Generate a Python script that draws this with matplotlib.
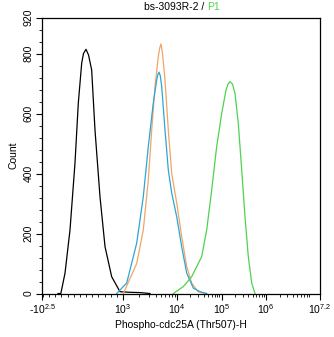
import numpy as np
import matplotlib
matplotlib.use('Agg')
import matplotlib.pyplot as plt
from matplotlib.ticker import FixedLocator, MultipleLocator

plt.rcParams['font.family'] = 'Liberation Sans'
plt.rcParams['mathtext.fontset'] = 'custom'
plt.rcParams['mathtext.rm'] = 'Liberation Sans'
plt.rcParams['mathtext.it'] = 'Liberation Sans'

# histogram outlines (fluorescence value, count)
black_x = [-56, -10, 58, 139, 220, 274, 329, 358, 399, 440, 491, 545, 626, 708, 816, 951, 1348, 2065, 3162]
black_y = [0, 0, 68, 212, 435, 635, 768, 800, 814, 795, 745, 545, 323, 156, 56, 6, 4, 3, 0]

orange_x = [1013, 1794, 2376, 2942, 3401, 3914, 4505, 4782, 5054, 5389, 5995, 6901, 7978, 9873, 12753, 16515, 21393, 29648, 42580]
orange_y = [0, 100, 212, 378, 545, 690, 790, 818, 832, 800, 712, 545, 400, 302, 190, 90, 35, 6, 0]

blue_x = [898, 1171, 1794, 2376, 2942, 3639, 4208, 4430, 4642, 4907, 5208, 5995, 6901, 7978, 9873, 12753, 16515, 23241, 32881, 46500]
blue_y = [0, 35, 168, 323, 490, 635, 712, 730, 738, 725, 690, 545, 412, 335, 256, 156, 68, 18, 6, 0]

green_x = [8542, 13855, 21393, 35900, 46500, 60230, 78020, 101000, 126200, 140000, 155200, 176700, 201100, 238500, 284400, 337500, 400300, 477200, 565900]
green_y = [0, 23, 56, 123, 212, 345, 490, 600, 678, 698, 706, 698, 667, 567, 412, 256, 123, 35, 0]

# biexponential-like display scale: linear below 10^3, log above
g_pts = [-0.316, 1, 2, 3, 4, 5.2]
p_pts = [0, 81, 135, 179.5, 224, 278]


def to_g(x):
    x = np.asarray(x, dtype=float)
    out = x / 1000.0
    big = x >= 1000
    out[big] = 1 + np.log10(x[big] / 1000.0)
    return out


def from_g(g):
    g = np.asarray(g, dtype=float)
    out = g * 1000.0
    big = g >= 1
    out[big] = 1000.0 * 10 ** (g[big] - 1)
    return out


def fwd(x):
    return np.interp(to_g(x), g_pts, p_pts)


def inv(p):
    return from_g(np.interp(p, p_pts, g_pts))


fig = plt.figure(figsize=(3.34, 3.37), dpi=100)
ax = fig.add_axes([42 / 334, 1 - 293.5 / 337, 278 / 334, 276 / 337])
ax.set_xscale('function', functions=(fwd, inv))

ax.plot(black_x, black_y, color='black', lw=0.9)
ax.plot(orange_x, orange_y, color='#f0a468', lw=0.9)
ax.plot(blue_x, blue_y, color='#2ba6d6', lw=0.9)
ax.plot(green_x, green_y, color='#4fd24f', lw=0.9)

ax.set_xlim(-10 ** 2.5, 10 ** 7.2)
ax.set_ylim(0, 920)

major = [-10 ** 2.5, 1e3, 1e4, 1e5, 1e6, 10 ** 7.2]
ax.xaxis.set_major_locator(FixedLocator(major))
ax.set_xticklabels([r'-$10^{2.5}$', r'$10^{3}$', r'$10^{4}$', r'$10^{5}$', r'$10^{6}$', r'$10^{7.2}$'])
minor = list(range(-300, 1000, 100))
for d in range(3, 7):
    minor += [k * 10 ** d for k in range(2, 10)]
minor = [m for m in minor if m < 10 ** 7.2]
ax.xaxis.set_minor_locator(FixedLocator(minor))

ax.set_yticks([0, 200, 400, 600, 800, 920])
ax.yaxis.set_minor_locator(MultipleLocator(40))
for lab in ax.get_yticklabels():
    lab.set_rotation(90)
    lab.set_va('center')

ax.tick_params(labelsize=7.5, length=4, width=0.8, direction='out', pad=2)
ax.tick_params(which='minor', length=2, width=0.6)
for s in ax.spines.values():
    s.set_linewidth(0.9)

ax.set_ylabel('Count', fontsize=7.5, labelpad=4)
ax.set_xlabel('Phospho-cdc25A (Thr507)-H', fontsize=7.5, labelpad=3)

fig.text(0.62, 0.978, 'bs-3093R-2 / ', ha='right', va='center', fontsize=7.5)
fig.text(0.62, 0.978, 'P1', ha='left', va='center', fontsize=7.5, color='#4fd24f')

fig.savefig('out.png', dpi=100)
